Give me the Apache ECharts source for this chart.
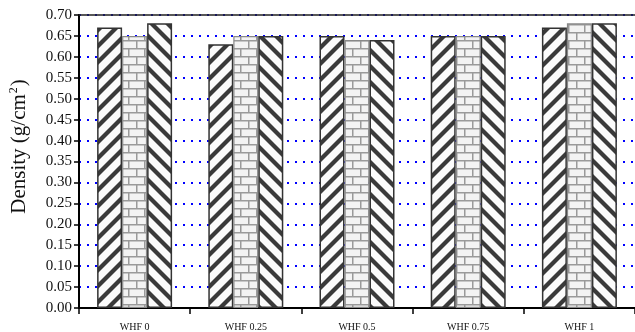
<!DOCTYPE html>
<html>
<head>
<meta charset="utf-8">
<script src="https://cdn.jsdelivr.net/npm/echarts@6/dist/echarts.min.js"></script>
<style>
html,body{margin:0;padding:0;background:#fff;}
#chart{width:635px;height:332px;}
</style>
</head>
<body>
<div id="chart"></div>
<script>
const categories = ['WHF 0', 'WHF 0.25', 'WHF 0.5', 'WHF 0.75', 'WHF 1'];
const seriesA = [0.67, 0.63, 0.65, 0.65, 0.67];
const seriesB = [0.65, 0.65, 0.64, 0.65, 0.68];
const seriesC = [0.68, 0.65, 0.64, 0.65, 0.68];
const yTicks = ['0.00','0.05','0.10','0.15','0.20','0.25','0.30','0.35','0.40','0.45','0.50','0.55','0.60','0.65','0.70'];

function stripePattern(dir) {
  const s = 16;
  const c = document.createElement('canvas');
  c.width = s; c.height = s;
  const g = c.getContext('2d');
  g.fillStyle = '#fbfbfb';
  g.fillRect(0, 0, s, s);
  g.strokeStyle = '#3a3a3a';
  g.lineWidth = 4.2;
  g.lineCap = 'butt';
  for (let k = -1; k <= 1; k++) {
    g.beginPath();
    if (dir === 1) {
      g.moveTo(k * s - 2, s + 2); g.lineTo(k * s + s + 2, -2);
    } else {
      g.moveTo(k * s - 2, -2); g.lineTo(k * s + s + 2, s + 2);
    }
    g.stroke();
  }
  return c;
}
function brickPattern() {
  const w = 16, h = 8;
  const c = document.createElement('canvas');
  c.width = w; c.height = h * 2;
  const g = c.getContext('2d');
  g.fillStyle = '#f3f3f3';
  g.fillRect(0, 0, w, h * 2);
  g.fillStyle = '#9a9a9a';
  g.fillRect(0, 0, w, 1.5);
  g.fillRect(0, h, w, 1.5);
  g.fillRect(0, 0, 1.5, h);
  g.fillRect(w / 2, h, 1.5, h);
  return c;
}

const chart = echarts.init(document.getElementById('chart'));
const barW = 25;
chart.setOption({
  animation: false,
  backgroundColor: '#ffffff',
  grid: { left: 72, top: 15, width: 569, bottom: 24, containLabel: false },
  xAxis: [{
    type: 'category',
    data: categories,
    axisLine: { lineStyle: { color: '#000', width: 2 } },
    axisTick: { show: true, alignWithLabel: false, length: 6, lineStyle: { color: '#000', width: 1.5 } },
    axisLabel: { color: '#111', fontFamily: 'Liberation Serif', fontSize: 10, margin: 14 },
    splitLine: { show: false }
  }, {
    type: 'category',
    position: 'top',
    data: categories,
    axisLine: { show: true, lineStyle: { color: '#222', width: 1.5 } },
    axisTick: { show: false },
    axisLabel: { show: false }
  }],
  yAxis: {
    type: 'value',
    min: 0, max: 0.70, interval: 0.05,
    name: '{a|Density (g/cm}{sup|2}{a|)}',
    nameLocation: 'middle',
    nameGap: 49,
    nameRotate: 90,
    nameTextStyle: {
      padding: [0, 0, 0, 30],
      rich: {
        a: { fontFamily: 'Liberation Serif', fontSize: 21, color: '#111' },
        sup: { fontFamily: 'Liberation Serif', fontSize: 12, color: '#111', verticalAlign: 'top', padding: [0, 1, 10, 1] }
      }
    },
    axisLine: { show: true, lineStyle: { color: '#000', width: 2 } },
    axisTick: { show: true, length: 5, lineStyle: { color: '#000', width: 1.5 } },
    axisLabel: {
      color: '#111', fontFamily: 'Liberation Serif', fontSize: 15, margin: 7,
      formatter: function (v) { return yTicks[Math.round(v / 0.05)]; }
    },
    splitLine: { show: true, lineStyle: { color: '#0000ff', width: 2, type: [2, 6] } }
  },
  series: [
    { type: 'bar', data: seriesA, barWidth: barW, barGap: '0%', z: 3,
      itemStyle: { color: { image: stripePattern(1), repeat: 'repeat' }, borderColor: '#333', borderWidth: 1.5 } },
    { type: 'bar', data: seriesB, barWidth: barW, barGap: '0%', z: 3,
      itemStyle: { color: { image: brickPattern(), repeat: 'repeat' }, borderColor: '#888', borderWidth: 1.2 } },
    { type: 'bar', data: seriesC, barWidth: barW, barGap: '0%', z: 3,
      itemStyle: { color: { image: stripePattern(-1), repeat: 'repeat' }, borderColor: '#333', borderWidth: 1.5 } }
  ]
});
</script>
</body>
</html>
